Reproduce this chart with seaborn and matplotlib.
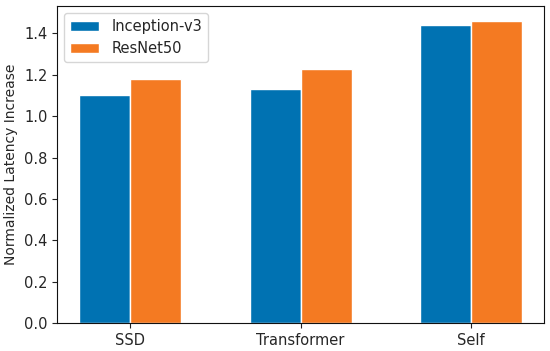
import pandas as pd
import matplotlib
matplotlib.use('Agg')
import matplotlib.pyplot as plt
import seaborn as sns

# chart data
categories = ['SSD', 'Transformer', 'Self']
models = ['Inception-v3', 'ResNet50']
inception_v3 = [1.10, 1.13, 1.44]
resnet50 = [1.18, 1.23, 1.46]

df = pd.DataFrame({
    'workload': categories * 2,
    'model': [models[0]] * 3 + [models[1]] * 3,
    'latency': inception_v3 + resnet50,
})

sns.set_style('ticks')
plt.rcParams['font.family'] = ['DejaVu Sans']

fig, ax = plt.subplots(figsize=(5.5, 3.51), dpi=100)
sns.barplot(data=df, x='workload', y='latency', hue='model',
            palette=['#0072b2', '#f47a22'], width=0.6, saturation=1,
            edgecolor='white', linewidth=1, ax=ax)

ax.set_xlim(-0.43, 2.43)
ax.set_ylim(0, 1.533)
ax.set_yticks([0.0, 0.2, 0.4, 0.6, 0.8, 1.0, 1.2, 1.4])
ax.set_xlabel('')
ax.set_ylabel('Normalized Latency Increase', fontsize=10)
ax.tick_params(labelsize=10.5, color='#222222')
for s in ax.spines.values():
    s.set_color('#111111')
ax.legend(loc='upper left', title=None, fontsize=10.5)

plt.subplots_adjust(left=0.104, right=0.989, top=0.983, bottom=0.080)
plt.savefig('out.png', dpi=100)
